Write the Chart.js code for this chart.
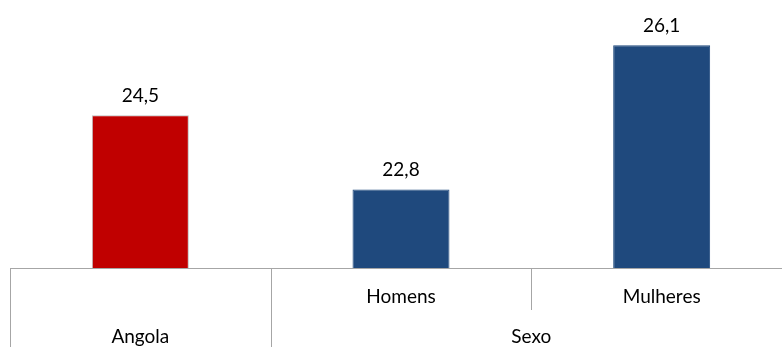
<!DOCTYPE html>
<html>
<head>
<meta charset="utf-8">
<script src="https://cdn.jsdelivr.net/npm/chart.js@4/dist/chart.umd.min.js"></script>
<style>
  html, body { margin: 0; padding: 0; background: #fff; overflow: hidden; }
  #wrap { width: 792px; height: 347px; }
</style>
</head>
<body>
<div id="wrap"><canvas id="c" width="792" height="347"></canvas></div>
<script>
// data
const categories = ['Angola', 'Homens', 'Mulheres'];
const values     = [24.5, 22.8, 26.1];
const innerLabels = ['', 'Homens', 'Mulheres'];
const groupLabels = ['Angola', 'Sexo'];
const groupSpans  = [1, 2];

const barColors  = ['#C00000', '#1F497D', '#1F497D'];
const borderCols = ['#BFBFBF', '#1F497D', '#1F497D'];
const FONT = '19px Lato, "Open Sans", sans-serif';
const LINE = '#A6A6A6';

const fmt = v => v.toFixed(1).replace('.', ',');

const decor = {
  id: 'decor',
  afterDatasetsDraw(chart) {
    const { ctx, chartArea, scales } = chart;
    const x = scales.x;
    const meta = chart.getDatasetMeta(0);
    ctx.save();
    ctx.font = FONT;
    ctx.fillStyle = '#000';
    ctx.textAlign = 'center';
    ctx.textBaseline = 'alphabetic';
    meta.data.forEach((bar, i) => {
      ctx.fillText(fmt(values[i]), bar.x, bar.y - 13);
    });

    const bottom = chartArea.bottom;
    const step = (chartArea.right - chartArea.left) / categories.length;
    const edge = i => chartArea.left + step * i;

    ctx.strokeStyle = LINE;
    ctx.lineWidth = 1;
    ctx.beginPath();
    ctx.moveTo(chartArea.left, bottom + 0.5);
    ctx.lineTo(chartArea.right, bottom + 0.5);
    // group boundaries (full height)
    let k = 0;
    const bounds = [0];
    groupSpans.forEach(s => { k += s; bounds.push(k); });
    bounds.forEach(b => {
      const px = Math.round(edge(b)) + 0.5;
      ctx.moveTo(px, bottom);
      ctx.lineTo(px, chart.height);
    });
    // inner boundaries (first row only)
    for (let i = 1; i < categories.length; i++) {
      if (bounds.includes(i)) continue;
      const px = Math.round(edge(i)) + 0.5;
      ctx.moveTo(px, bottom);
      ctx.lineTo(px, bottom + 42);
    }
    ctx.stroke();

    ctx.fillStyle = '#000';
    innerLabels.forEach((t, i) => {
      if (t) ctx.fillText(t, x.getPixelForValue(i), bottom + 35);
    });
    let start = 0;
    groupLabels.forEach((t, g) => {
      const end = start + groupSpans[g];
      ctx.fillText(t, (edge(start) + edge(end)) / 2, bottom + 75);
      start = end;
    });
    ctx.restore();
  }
};

new Chart(document.getElementById('c'), {
  type: 'bar',
  data: {
    labels: categories,
    datasets: [{
      data: values,
      backgroundColor: barColors,
      borderColor: borderCols,
      borderWidth: 1,
      barPercentage: 0.372,
      categoryPercentage: 1,
    }],
  },
  options: {
    responsive: false,
    animation: false,
    layout: { padding: { top: 6, bottom: 79, left: 10, right: 0 } },
    plugins: {
      legend:  { display: false },
      tooltip: { enabled: false },
    },
    scales: {
      x: { display: false },
      y: { display: false, min: 21, max: 27 },
    },
  },
  plugins: [decor],
});
</script>
</body>
</html>
